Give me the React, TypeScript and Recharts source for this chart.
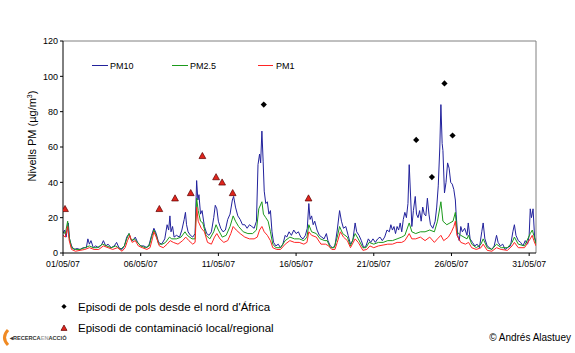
import { ComposedChart, Line, Scatter, XAxis, YAxis, ReferenceLine } from "recharts";

// days since 01/05/07 00:00
const tickDays = [0, 5, 10, 15, 20, 25, 30];
const tickLabels = ["01/05/07", "06/05/07", "11/05/07", "16/05/07", "21/05/07", "26/05/07", "31/05/07"];
const yTicks = [0, 20, 40, 60, 80, 100, 120];

const pm10Days = [
  0, 0.1, 0.2, 0.34, 0.42, 0.55, 0.7, 0.9, 1.1, 1.3, 1.5, 1.6, 1.7, 1.8, 1.95, 2.1, 2.3, 2.5, 2.6, 2.75,
  2.9, 3.1, 3.3, 3.45, 3.6, 3.8, 3.95, 4.1, 4.25, 4.35, 4.5, 4.65, 4.8, 5.0, 5.2, 5.4, 5.55, 5.7, 5.85, 6.0,
  6.15, 6.35, 6.55, 6.7, 6.8, 6.88, 6.95, 7.05, 7.15, 7.3, 7.5, 7.65, 7.8, 7.88, 7.95, 8.05, 8.2, 8.35, 8.5, 8.6,
  8.68, 8.75, 8.85, 8.95, 9.1, 9.25, 9.4, 9.55, 9.7, 9.8, 9.9, 10.0, 10.15, 10.3, 10.45, 10.6, 10.75, 10.9, 10.98, 11.1,
  11.25, 11.4, 11.55, 11.7, 11.85, 12.0, 12.15, 12.3, 12.45, 12.55, 12.65, 12.72, 12.8, 12.88, 12.95, 13.05, 13.15, 13.25, 13.35, 13.45,
  13.55, 13.7, 13.85, 14.0, 14.15, 14.3, 14.4, 14.55, 14.7, 14.85, 15.0, 15.15, 15.3, 15.45, 15.6, 15.72, 15.82, 15.9, 16.0, 16.1,
  16.2, 16.35, 16.5, 16.65, 16.8, 16.95, 17.05, 17.2, 17.35, 17.5, 17.65, 17.8, 17.92, 18.05, 18.2, 18.35, 18.5, 18.65, 18.8, 18.9,
  19.05, 19.2, 19.35, 19.5, 19.65, 19.8, 19.95, 20.1, 20.25, 20.4, 20.55, 20.7, 20.85, 21.0, 21.1, 21.2, 21.3, 21.4, 21.5, 21.6,
  21.7, 21.8, 21.9, 22.0, 22.1, 22.2, 22.28, 22.38, 22.45, 22.55, 22.67, 22.75, 22.85, 22.95, 23.05, 23.15, 23.25, 23.35, 23.45, 23.55,
  23.65, 23.8, 23.95, 24.05, 24.15, 24.25, 24.32, 24.4, 24.45, 24.55, 24.65, 24.75, 24.85, 24.95, 25.05, 25.15, 25.25, 25.3, 25.4, 25.5,
  25.6, 25.7, 25.85, 26.0, 26.08, 26.2, 26.35, 26.5, 26.65, 26.8, 26.95, 27.04, 27.15, 27.3, 27.45, 27.6, 27.75, 27.9, 28.0, 28.15,
  28.3, 28.45, 28.6, 28.8, 28.95, 29.05, 29.15, 29.3, 29.45, 29.6, 29.75, 29.9, 30.0, 30.07, 30.15, 30.25, 30.35, 30.44,
];
const pm10Values = [
  11, 13, 9, 17, 8, 4, 2, 2.5, 2, 3, 3, 8, 5, 7, 3, 4, 3, 5, 7, 4,
  5, 3, 4, 6, 3, 2, 4, 9, 11, 8, 7, 9, 6, 4, 4, 3, 5, 10, 14, 11,
  6, 5, 8, 16, 13, 21, 12, 15, 9, 10, 9, 13, 19, 23, 16, 12, 10, 9, 11, 41,
  30, 33, 22, 24, 15, 11, 10, 12, 20, 27, 25, 18, 14, 12, 13, 19, 22, 30, 32, 26,
  21, 19, 16, 16, 14, 16, 15, 14, 18, 50, 56, 51, 69, 52, 35, 28, 29, 22, 24, 12,
  6, 4, 5, 3, 5, 10, 9, 12, 10, 13, 11, 12, 9, 8, 10, 14, 28, 19, 21, 16,
  18, 13, 10, 9, 8, 11, 7, 4, 3, 4, 13, 24, 18, 14, 15, 10, 5, 7, 17, 12,
  10, 7, 3, 4, 8, 6, 8, 6, 8, 9, 7, 9, 13, 12, 16, 13, 15, 11, 15, 13,
  17, 12, 19, 23, 20, 28, 50, 30, 15, 24, 32, 22, 20, 24, 18, 26, 22, 21, 31, 22,
  16, 14, 18, 26, 38, 60, 84, 62, 58, 34, 40, 51, 48, 40, 39, 36, 30, 22, 10, 7,
  15, 12, 14, 10, 17, 8, 6, 4, 5, 3, 12, 17, 8, 4, 3, 2, 4, 10, 6, 4,
  5, 2, 3, 4, 12, 16, 10, 7, 6, 4, 7, 5, 10, 25, 20, 25, 9, 6,
];

const pm25Days = [
  0, 0.15, 0.3, 0.4, 0.55, 0.8, 1.1, 1.4, 1.7, 1.95, 2.2, 2.55, 2.8, 3.1, 3.4, 3.7, 3.95, 4.1, 4.25, 4.4,
  4.6, 4.8, 5.0, 5.3, 5.55, 5.7, 5.85, 6.0, 6.15, 6.4, 6.6, 6.85, 7.0, 7.3, 7.6, 7.85, 8.0, 8.3, 8.5, 8.6,
  8.7, 8.85, 9.0, 9.2, 9.45, 9.7, 9.85, 10.0, 10.25, 10.5, 10.75, 10.95, 11.1, 11.3, 11.6, 11.9, 12.2, 12.45, 12.6, 12.8,
  12.9, 13.05, 13.2, 13.35, 13.5, 13.7, 14.0, 14.3, 14.6, 14.9, 15.2, 15.5, 15.7, 15.82, 16.0, 16.3, 16.55, 16.85, 17.0, 17.2,
  17.45, 17.65, 17.8, 18.0, 18.3, 18.5, 18.8, 19.0, 19.3, 19.5, 19.7, 20.0, 20.3, 20.6, 20.9, 21.2, 21.5, 21.8, 22.0, 22.28,
  22.45, 22.7, 23.0, 23.3, 23.6, 23.9, 24.1, 24.32, 24.45, 24.7, 24.9, 25.1, 25.25, 25.35, 25.6, 26.0, 26.1, 26.3, 26.6, 26.9,
  27.04, 27.3, 27.6, 27.9, 28.2, 28.6, 28.9, 29.05, 29.3, 29.7, 30.07, 30.2, 30.3, 30.44,
];
const pm25Values = [
  12, 11, 18, 9, 3, 2, 2, 3, 4, 3, 3, 5, 4, 3, 4, 2, 4, 8, 11, 7,
  8, 6, 4, 3, 4, 9, 13, 10, 5, 5, 6, 9, 8, 8, 9, 12, 10, 8, 8, 31,
  24, 18, 17, 10, 8, 12, 16, 13, 9, 10, 15, 21, 18, 15, 12, 11, 11, 13, 25, 29,
  22, 20, 18, 12, 5, 3, 3, 7, 9, 8, 8, 7, 9, 16, 12, 11, 8, 7, 7, 3,
  3, 9, 15, 11, 9, 4, 11, 8, 3, 3, 6, 5, 6, 6, 7, 7, 8, 9, 10, 17,
  12, 11, 12, 12, 13, 12, 18, 29, 18, 16, 17, 18, 23, 12, 10, 8, 10, 5, 3, 5,
  8, 3, 2, 5, 3, 3, 6, 9, 5, 4, 11, 13, 10, 5,
];

const pm1Days = [
  0, 0.15, 0.3, 0.4, 0.55, 0.8, 1.1, 1.4, 1.7, 2.0, 2.3, 2.6, 2.9, 3.2, 3.5, 3.8, 4.0, 4.15, 4.3, 4.45,
  4.65, 4.85, 5.1, 5.4, 5.6, 5.75, 5.85, 6.0, 6.2, 6.45, 6.7, 6.9, 7.1, 7.4, 7.7, 7.9, 8.1, 8.35, 8.5, 8.6,
  8.7, 8.9, 9.1, 9.3, 9.55, 9.75, 9.9, 10.1, 10.35, 10.6, 10.8, 10.95, 11.15, 11.4, 11.7, 12.0, 12.3, 12.5, 12.65, 12.8,
  12.95, 13.15, 13.35, 13.5, 13.75, 14.0, 14.3, 14.6, 14.9, 15.2, 15.5, 15.7, 15.82, 16.0, 16.3, 16.6, 16.9, 17.1, 17.3, 17.5,
  17.65, 17.85, 18.05, 18.3, 18.5, 18.8, 19.0, 19.3, 19.55, 19.75, 20.0, 20.3, 20.6, 20.9, 21.2, 21.5, 21.8, 22.0, 22.28, 22.45,
  22.7, 23.0, 23.3, 23.6, 23.9, 24.1, 24.32, 24.5, 24.8, 25.0, 25.15, 25.25, 25.35, 25.6, 25.9, 26.1, 26.3, 26.6, 26.9, 27.04,
  27.3, 27.6, 27.9, 28.2, 28.6, 28.9, 29.05, 29.3, 29.7, 30.07, 30.2, 30.3, 30.44,
];
const pm1Values = [
  10, 9, 15, 7, 2, 1, 1.5, 2, 3, 2, 2, 4, 3, 2, 3, 1, 3, 7, 10, 6,
  7, 4, 3, 2, 3, 8, 12, 9, 4, 3, 5, 7, 6, 5, 7, 9, 7, 5, 6, 26,
  18, 14, 12, 6, 5, 9, 11, 8, 6, 7, 11, 15, 13, 11, 9, 8, 8, 9, 13, 15,
  12, 10, 7, 3, 2, 2, 5, 7, 6, 6, 5, 6, 12, 10, 9, 5, 5, 4, 2, 2,
  6, 12, 9, 7, 3, 8, 6, 1.5, 2, 4, 3, 4, 4.5, 5, 5, 6, 6, 7, 11, 8,
  8, 9, 7, 9, 6, 8, 10, 7, 9, 12, 15, 18, 10, 6, 5, 6, 3, 2, 3, 5,
  1.5, 1, 3, 2, 1.5, 4, 6, 3, 3, 8, 10, 7, 4,
];

// episodes
const dustDays = [12.92, 22.73, 23.74, 24.55, 25.07];
const dustValues = [84, 64, 43, 96, 66.5];
const localDays = [0.13, 6.2, 7.21, 8.22, 8.97, 9.85, 10.24, 10.92, 15.8];
const localValues = [25, 25, 31, 34, 55, 43, 40, 34, 31];

const zip = (days: number[], vals: number[]) => days.map((d, i) => ({ d, v: vals[i] }));

const FONT = '"Liberation Sans", Arial, sans-serif';
const BLUE = "#22229c";
const GREEN = "#1c9a1c";
const RED = "#ff2424";

function Diamond({ cx, cy, r = 3.1 }: any) {
  return <polygon points={`${cx},${cy - r} ${cx + r},${cy} ${cx},${cy + r} ${cx - r},${cy}`} fill="#000" />;
}

function Triangle({ cx, cy, s = 3.4 }: any) {
  return (
    <polygon
      points={`${cx},${cy - s} ${cx + s},${cy + s * 0.8} ${cx - s},${cy + s * 0.8}`}
      fill="#e0241c"
      stroke="#5a0000"
      strokeWidth={0.7}
    />
  );
}

export default function App() {
  return (
    <div style={{ position: "absolute", left: 0, top: 0, width: 575, height: 353, background: "#fff", fontFamily: FONT }}>
      <ComposedChart width={575} height={353} margin={{ top: 41, right: 39, bottom: 70, left: 13 }}>
        <XAxis
          type="number"
          dataKey="d"
          domain={[0, 30.44]}
          ticks={tickDays}
          tickFormatter={(v) => tickLabels[tickDays.indexOf(v)]}
          allowDataOverflow
          height={30}
          tickSize={3}
          tickMargin={5}
          stroke="#000"
          tick={{ fill: "#000", fontSize: 8.7, fontFamily: FONT }}
        />
        <YAxis
          type="number"
          domain={[0, 120]}
          ticks={yTicks}
          width={50}
          tickSize={3}
          stroke="#000"
          tick={{ fill: "#000", fontSize: 9, fontFamily: FONT }}
        />
        <ReferenceLine y={120} stroke="#808080" />
        <ReferenceLine x={30.44} stroke="#808080" />
        <Line data={zip(pm10Days, pm10Values)} dataKey="v" type="linear" stroke={BLUE} strokeWidth={1} dot={false} isAnimationActive={false} />
        <Line data={zip(pm25Days, pm25Values)} dataKey="v" type="linear" stroke={GREEN} strokeWidth={1} dot={false} isAnimationActive={false} />
        <Line data={zip(pm1Days, pm1Values)} dataKey="v" type="linear" stroke={RED} strokeWidth={1} dot={false} isAnimationActive={false} />
        <Scatter data={zip(dustDays, dustValues)} dataKey="v" shape={<Diamond />} isAnimationActive={false} />
        <Scatter data={zip(localDays, localValues)} dataKey="v" shape={<Triangle />} isAnimationActive={false} />
      </ComposedChart>

      <svg width={575} height={353} style={{ position: "absolute", left: 0, top: 0, pointerEvents: "none" }} fontFamily={FONT}>
        <text transform="translate(36,136) rotate(-90)" textAnchor="middle" fontSize={11} fill="#000">
          Nivells PM (µg/m<tspan dy={-4} fontSize={7}>3</tspan>
          <tspan dy={4}>)</tspan>
        </text>

        <line x1={92} y1={65.5} x2={108} y2={65.5} stroke={BLUE} />
        <text x={110} y={69} fontSize={9} fill="#000">PM10</text>
        <line x1={172} y1={65.5} x2={188} y2={65.5} stroke={GREEN} />
        <text x={190} y={69} fontSize={9} fill="#000">PM2.5</text>
        <line x1={258} y1={65.5} x2={273} y2={65.5} stroke={RED} />
        <text x={276} y={69} fontSize={9} fill="#000">PM1</text>

        <Diamond cx={64} cy={306.5} r={2.6} />
        <text x={78} y={310.5} fontSize={11.5} fill="#000">Episodi de pols desde el nord d'África</text>
        <Triangle cx={64} cy={328} s={3} />
        <text x={78} y={331.5} fontSize={11.5} fill="#000">Episodi de contaminació local/regional</text>

        <path d="M8 330 Q1 337.5 8 345" stroke="#f08a24" strokeWidth={3} fill="none" />
        <text x={10} y={339.5} fontSize={5.6} fontWeight="bold" fill="#333">
          ◂RECERCA<tspan fill="#aaa">EN</tspan>ACCIÓ
        </text>
        <text x={571} y={341} textAnchor="end" fontSize={10} fill="#000">© Andrés Alastuey</text>
      </svg>
    </div>
  );
}
